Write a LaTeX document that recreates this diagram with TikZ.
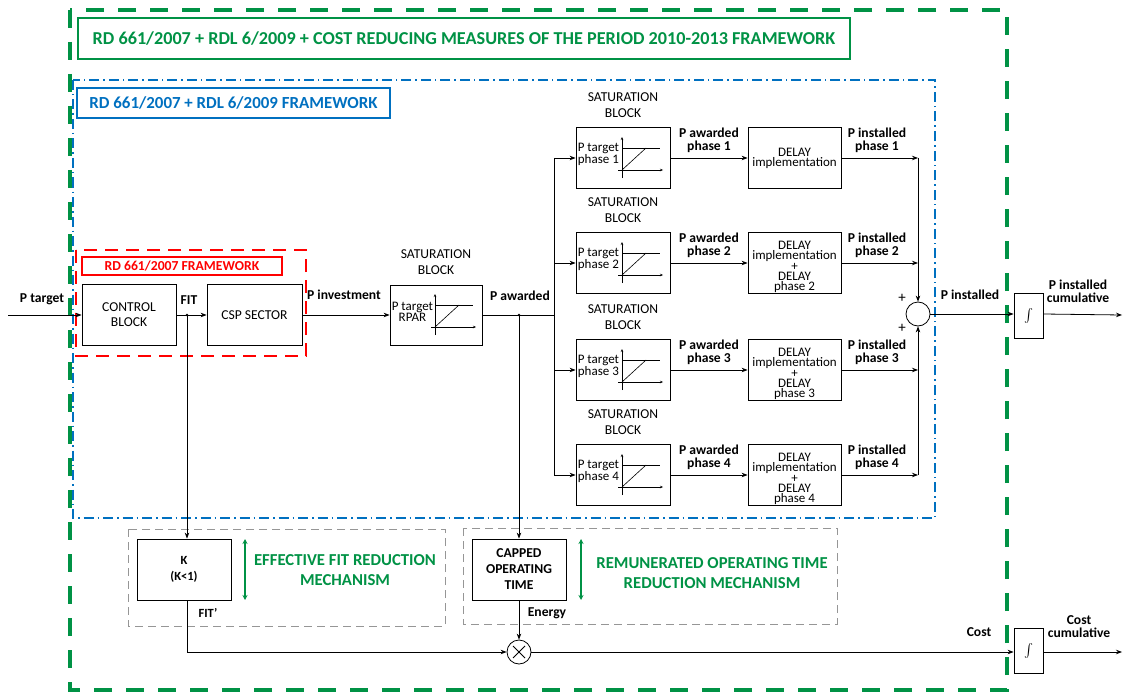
\documentclass[tikz,border=0pt]{standalone}
\usepackage{fontspec}
\setmainfont{Carlito}
\usetikzlibrary{arrows.meta,calc}

\definecolor{fwgreen}{RGB}{0,146,69}
\definecolor{fwblue}{RGB}{0,112,192}
\definecolor{fwred}{RGB}{255,0,0}
\definecolor{fwgrey}{RGB}{150,150,150}

\tikzset{
  wire/.style={line width=0.8pt},
  arr/.style={wire,-{Stealth[length=6pt,width=4.5pt]}},
  blk/.style={draw,line width=0.8pt,minimum width=94pt,minimum height=61pt,
              inner sep=0pt,align=center,font=\fontsize{13.6}{15}\selectfont},
  satblk/.style={blk,minimum width=94pt,minimum height=61pt},
  intblk/.style={draw,line width=0.8pt,minimum width=29pt,minimum height=45pt,inner sep=0pt},
  lbl/.style={font=\bfseries\fontsize{13.6}{13}\selectfont,align=center,inner sep=0pt},
  captxt/.style={font=\fontsize{13.6}{16}\selectfont,align=center,inner sep=0pt},
  sattxt/.style={font=\fontsize{13}{11}\selectfont,align=center,inner sep=0pt,anchor=west},
  delaytxt/.style={font=\fontsize{13}{10.2}\selectfont,align=center,inner sep=0pt},
  mechtxt/.style={font=\bfseries\fontsize{16.7}{20}\selectfont,text=fwgreen,align=center,inner sep=0pt},
  dot/.style={circle,fill,inner sep=0pt,minimum size=2.6pt},
}

% saturation characteristic drawn inside a block
\newcommand{\satcurve}[1]{%
  \begin{scope}[shift={(#1.center)},line width=0.6pt]
    \draw[-{Stealth[length=3pt,width=2.5pt]}] (-1,20) -- (-1,-21);
    \draw[-{Stealth[length=3pt,width=2.5pt]}] (-5,12) -- (40,12);
    \draw (-1,-10) -- (37,-10);
    \draw (-1,12) -- (23,-10);
  \end{scope}}

\newcommand{\integsign}{\scalebox{1.35}{$\int$}}

\begin{document}
\begin{tikzpicture}[x=1pt,y=-1pt]
\useasboundingbox (0,0) rectangle (1131,695);

% framework outlines
\draw[fwgreen,line width=3.2pt,dash pattern=on 18pt off 14pt] (70,10) rectangle (1007,690);
\node[draw=fwgreen,line width=1.3pt,minimum width=772pt,minimum height=41pt,inner sep=0pt,
      font=\bfseries\fontsize{18.2}{18}\selectfont,text=fwgreen] (ttlA) at (464,38.5)
      {RD 661/2007 + RDL 6/2009 + COST REDUCING MEASURES OF THE PERIOD 2010-2013 FRAMEWORK};

\draw[fwblue,line width=1.3pt,dash pattern=on 10pt off 4pt on 1.5pt off 4pt] (73,80) rectangle (935,518);
\node[draw=fwblue,line width=1.3pt,minimum width=313pt,minimum height=30pt,inner sep=0pt,
      font=\bfseries\fontsize{16.9}{17}\selectfont,text=fwblue] (ttlB) at (233.5,103)
      {RD 661/2007 + RDL 6/2009 FRAMEWORK};

\draw[fwred,line width=1.8pt,dash pattern=on 13pt off 8pt] (76,250) rectangle (306,356);
\node[draw=fwred,line width=1.6pt,minimum width=200pt,minimum height=18pt,inner sep=0pt,
      font=\bfseries\fontsize{13.7}{14}\selectfont,text=fwred] (ttlC) at (182,266)
      {RD 661/2007 FRAMEWORK};

\draw[fwgrey,line width=1pt,dash pattern=on 8pt off 5pt] (128,529) rectangle (445,626);
\draw[fwgrey,line width=1pt,dash pattern=on 8pt off 5pt] (463,528) rectangle (837,624);

% main chain
\node[blk] (ctrl) at (129,315) {CONTROL\\BLOCK};
\node[blk,minimum width=95pt] (csp) at (254.5,315) {CSP SECTOR};
\node[satblk,minimum width=92pt,minimum height=60pt] (rpar) at (436,315) {};
\satcurve{rpar}
\node[sattxt] (rpart) at ($(rpar.west)+(2,-3.5)$) {P target\\RPAR};
\node[captxt] (rparc) at (436,262) {SATURATION\\BLOCK};

\coordinate (pin) at (8,315);
\coordinate (fitj) at (187,315);
\coordinate (awj) at (519,315);
\coordinate (bus) at (554,315);

\node[lbl] (lpt) at (42,299) {P target};
\node[lbl] (lfit) at (189,300) {FIT};
\node[lbl] (lpinv) at (344,295) {P investment};
\node[lbl] (lpaw) at (520,296) {P awarded};

\draw[arr] (pin) -- (ctrl.west);
\draw[arr] (ctrl.east) -- (csp.west);
\draw[arr] (csp.east) -- (rpar.west);
\draw[wire] (rpar.east) -- (bus);
\node[dot] at (fitj) {};
\node[dot] at (awj) {};

% phase branches
\foreach \i/\y in {1/158,2/263,3/370,4/475}{
  \node[satblk] (s\i) at (623,\y) {};
  \satcurve{s\i}
  \node[sattxt] (s\i t) at ($(s\i.west)+(2,-3.5)$) {P target\\phase \i};
  \node[captxt] (s\i c) at (623,\y-53) {SATURATION\\BLOCK};
  \node[blk,minimum width=93pt] (d\i) at (794.5,\y) {};
  \node[lbl] (a\i) at (709,\y-18) {P awarded\\phase \i};
  \node[lbl] (n\i) at (877,\y-18) {P installed\\phase \i};
  \draw[arr] (bus |- s\i.west) -- (s\i.west);
  \draw[arr] (s\i.east) -- (d\i.west);
}
\node[delaytxt] (d1t) at (d1) {DELAY\\implementation};
\foreach \i in {2,3,4}{
  \node[delaytxt] (d\i t) at ($(d\i)+(0,4)$) {DELAY\\implementation\\+\\DELAY\\phase \i};
}
\draw[wire] (bus |- s1.west) -- (bus |- s4.west);

% summation of installed power
\node[draw,circle,line width=0.8pt,minimum size=24pt,inner sep=0pt] (sum) at (918,314) {};
\node[lbl,font=\fontsize{15}{15}\selectfont] (pl1) at (902,298) {+};
\node[lbl,font=\fontsize{15}{15}\selectfont] (pl2) at (902,328) {+};
\draw[arr] (d1.east) -- (sum |- d1.east);
\draw[arr] (sum |- d1.east) -- (sum.north);
\draw[arr] (d2.east) -- (sum |- d2.east);
\draw[arr] (d3.east) -- (sum |- d3.east);
\draw[arr] (d4.east) -- (sum |- d4.east);
\draw[arr] (sum |- d4.east) -- (sum.south);

\node[intblk] (int1) at (1028.5,315.5) {\integsign};
\coordinate (out1) at (1122,315);
\node[lbl] (lpi) at (970,295) {P installed};
\node[lbl] (lpic) at (1078,291) {P installed\\cumulative};
\draw[arr] (sum.east) -- (sum.east -| int1.west);
\draw[arr] (sum.east -| int1.east) -- (out1);

% cost reduction mechanisms
\node[blk,font=\bfseries\fontsize{12.5}{16}\selectfont] (kblk) at (184,569.5) {K\\(K<1)};
\node[blk,font=\bfseries\fontsize{13.6}{16}\selectfont] (capb) at (519,569.5) {CAPPED\\OPERATING\\TIME};
\node[mechtxt] (m1) at (345,570.5) {EFFECTIVE FIT REDUCTION\\MECHANISM};
\node[mechtxt] (m2) at (712,573) {REMUNERATED OPERATING TIME\\REDUCTION MECHANISM};
\coordinate (g1a) at (245,539); \coordinate (g1b) at (245,600);
\coordinate (g2a) at (581,539); \coordinate (g2b) at (581,600);
\draw[fwgreen,line width=1.3pt,{Stealth[length=5pt,width=5pt]}-{Stealth[length=5pt,width=5pt]}] (g1a) -- (g1b);
\draw[fwgreen,line width=1.3pt,{Stealth[length=5pt,width=5pt]}-{Stealth[length=5pt,width=5pt]}] (g2a) -- (g2b);

\node[lbl,font=\bfseries\fontsize{12.5}{12}\selectfont] (lfit2) at (208,613) {FIT’};
\node[lbl] (len) at (547,613) {Energy};

\node[draw,circle,line width=0.8pt,minimum size=24pt,inner sep=0pt] (mul) at (519,652) {};
\draw[line width=0.8pt] ($(mul.center)+(-6,-6)$) -- ($(mul.center)+(6,6)$)
                        ($(mul.center)+(-6,6)$) -- ($(mul.center)+(6,-6)$);

\draw[arr] (fitj) -- (fitj |- kblk.north);
\draw[arr] (fitj |- kblk.south) -- (fitj |- mul.west) -- (mul.west);
\draw[arr] (awj) -- (capb.north);
\draw[arr] (capb.south) -- (mul.north);

\node[intblk] (int2) at (1028.5,650.5) {\integsign};
\coordinate (out2) at (1122,652);
\node[lbl] (lcost) at (979,632) {Cost};
\node[lbl] (lcc) at (1079,627) {Cost\\cumulative};
\draw[arr] (mul.east) -- (mul.east -| int2.west);
\draw[arr] (mul.east -| int2.east) -- (out2);

\end{tikzpicture}
\end{document}
